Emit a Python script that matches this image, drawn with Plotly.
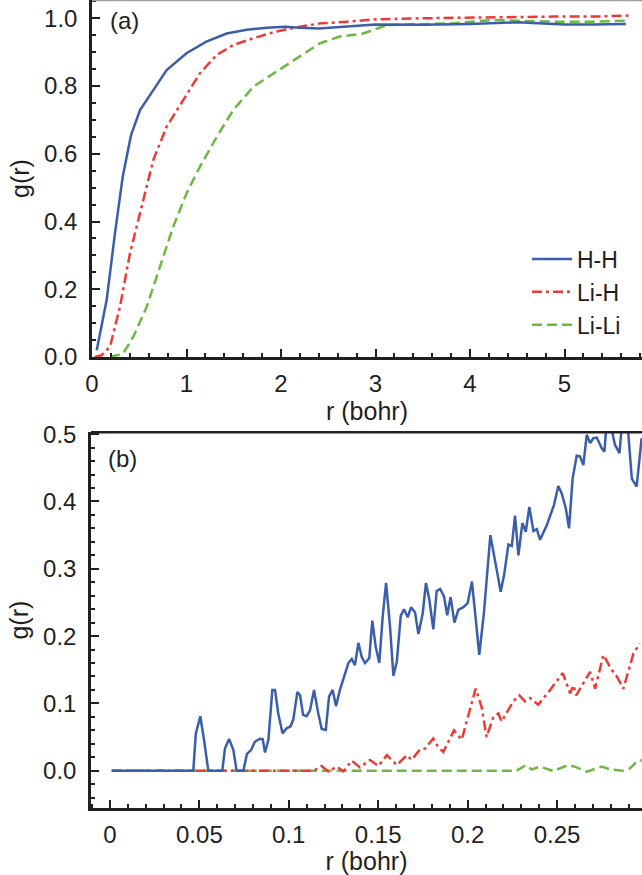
import plotly.graph_objects as go

# ---- panel (a): g(r) over the full range ----
r_hh_a = [0.05, 0.155, 0.243, 0.325, 0.413, 0.508, 0.649, 0.79, 1.0, 1.21, 1.425,
          1.637, 1.85, 2.04, 2.2, 2.4, 2.7, 3.0, 3.5, 4.0, 4.5, 4.75, 5.0, 5.3, 5.65]
g_hh_a = [0.02, 0.168, 0.365, 0.532, 0.655, 0.729, 0.788, 0.847, 0.897, 0.931, 0.955,
          0.966, 0.972, 0.975, 0.972, 0.970, 0.976, 0.982, 0.981, 0.983, 0.988, 0.984,
          0.982, 0.982, 0.983]

r_lih_a = [0.03, 0.1, 0.19, 0.296, 0.402, 0.508, 0.649, 0.79, 0.966, 1.143, 1.32,
           1.495, 1.707, 1.95, 2.2, 2.41, 2.7, 3.01, 3.47, 4.18, 4.88, 5.3, 5.69]
g_lih_a = [0.0, 0.005, 0.03, 0.148, 0.306, 0.424, 0.582, 0.68, 0.759, 0.838, 0.892,
           0.921, 0.941, 0.961, 0.975, 0.985, 0.99, 0.997, 1.0, 1.003, 1.005, 1.005, 1.008]

r_lili_a = [0.19, 0.33, 0.437, 0.579, 0.72, 0.86, 1.0, 1.143, 1.32, 1.495, 1.707,
            1.92, 2.13, 2.41, 2.62, 2.87, 3.12, 3.5, 3.82, 4.24, 4.6, 4.88, 5.3, 5.69]
g_lili_a = [0.0, 0.01, 0.06, 0.148, 0.267, 0.385, 0.483, 0.562, 0.65, 0.729, 0.798,
            0.837, 0.877, 0.926, 0.946, 0.955, 0.98, 0.983, 0.985, 0.995, 0.993, 0.99,
            0.99, 0.993]

# ---- panel (b): short-range detail ----
r_hh_b = [0.001, 0.0466, 0.048, 0.0505, 0.0526, 0.055, 0.0628, 0.0643, 0.0666, 0.069,
          0.0708, 0.0746, 0.0766, 0.079, 0.081, 0.0839, 0.0854, 0.0867, 0.0886, 0.0908,
          0.0923, 0.0941, 0.0965, 0.0988, 0.101, 0.1025, 0.1048, 0.1063, 0.108, 0.11,
          0.1119, 0.1141, 0.1165, 0.1184, 0.1207, 0.1225, 0.1245, 0.1264, 0.1286, 0.131,
          0.1333, 0.1352, 0.137, 0.1389, 0.1408, 0.1426, 0.145, 0.1467, 0.1486, 0.1506,
          0.1525, 0.1544, 0.1566, 0.1585, 0.1604, 0.1626, 0.1644, 0.1665, 0.1684, 0.1706,
          0.1725, 0.1749, 0.1767, 0.1786, 0.1808, 0.1827, 0.1846, 0.1868, 0.1886, 0.1905,
          0.1926, 0.1948, 0.1976, 0.2, 0.2024, 0.2045, 0.2065, 0.2091, 0.2127, 0.2185,
          0.2204, 0.2228, 0.2247, 0.2265, 0.2284, 0.2306, 0.2325, 0.2345, 0.2368, 0.2387,
          0.2405, 0.2443, 0.2483, 0.2507, 0.2526, 0.2549, 0.2567, 0.2587, 0.261, 0.2628,
          0.2647, 0.2666, 0.2685, 0.2703, 0.2722, 0.275, 0.2765, 0.2778, 0.2795, 0.2824,
          0.2849, 0.2868, 0.289, 0.2918, 0.2945, 0.2973]
g_hh_b = [0.0, 0.0, 0.055, 0.081, 0.046, 0.0, 0.0, 0.033, 0.047, 0.031,
          0.0, 0.0, 0.025, 0.031, 0.043, 0.0475, 0.047, 0.027, 0.046, 0.12,
          0.12, 0.085, 0.0555, 0.063, 0.066, 0.076, 0.117, 0.112, 0.083, 0.081,
          0.09, 0.12, 0.085, 0.062, 0.0605, 0.11, 0.12, 0.096, 0.12, 0.14,
          0.16, 0.166, 0.157, 0.19, 0.169, 0.16, 0.167, 0.223, 0.184, 0.16,
          0.229, 0.279, 0.214, 0.141, 0.162, 0.23, 0.24, 0.228, 0.243, 0.235,
          0.203, 0.234, 0.279, 0.254, 0.21, 0.267, 0.27, 0.259, 0.231, 0.258,
          0.22, 0.239, 0.243, 0.249, 0.281, 0.226, 0.172, 0.234, 0.35, 0.266,
          0.291, 0.336, 0.334, 0.379, 0.32, 0.368, 0.355, 0.392, 0.356, 0.359,
          0.343, 0.365, 0.395, 0.423, 0.412, 0.39, 0.36, 0.434, 0.468, 0.467,
          0.454, 0.499, 0.487, 0.494, 0.495, 0.479, 0.474, 0.52, 0.52, 0.484,
          0.472, 0.53, 0.53, 0.434, 0.422, 0.494]

r_lih_b = [0.001, 0.114, 0.1184, 0.1221, 0.1268, 0.1305, 0.1352, 0.1398, 0.1454, 0.1501,
           0.1548, 0.1604, 0.166, 0.1687, 0.1734, 0.1762, 0.1808, 0.1836, 0.1864, 0.1924,
           0.1967, 0.2013, 0.2045, 0.2078, 0.2106, 0.2144, 0.2172, 0.219, 0.2255, 0.2289,
           0.2321, 0.2349, 0.2395, 0.2461, 0.2532, 0.2573, 0.2592, 0.2607, 0.2647, 0.2685,
           0.2713, 0.2759, 0.2806, 0.2834, 0.2871, 0.2927, 0.2962]
g_lih_b = [0.0, 0.0, 0.007, -0.001, 0.006, -0.001, 0.015, 0.005, 0.016, 0.007,
           0.023, 0.0085, 0.023, 0.016, 0.032, 0.033, 0.048, 0.035, 0.028, 0.06,
           0.046, 0.09, 0.122, 0.095, 0.05, 0.08, 0.085, 0.073, 0.103, 0.112,
           0.103, 0.108, 0.098, 0.12, 0.145, 0.115, 0.127, 0.112, 0.13, 0.147,
           0.122, 0.172, 0.15, 0.14, 0.122, 0.174, 0.189]

r_lili_b = [0.001, 0.2255, 0.2274, 0.2327, 0.2358, 0.2405, 0.2479, 0.2563, 0.261, 0.2666,
            0.275, 0.2796, 0.2871, 0.2908, 0.2955, 0.2973]
g_lili_b = [0.0, 0.0, 0.0, 0.0085, 0.002, 0.006, -0.0005, 0.0085, 0.005, -0.0015,
            0.006, 0.002, 0.0, 0.0035, 0.016, 0.015]

# ---- styling ----
BLUE = "#3b5eab"
RED = "#ec3b36"
GREEN = "#6cb843"
INK = "#231f20"
FONT = "Liberation Sans, Arial, sans-serif"

series = [
    # name, colour, dash, legend rank, panel-a data, panel-b data
    ("Li-Li", GREEN, "10px,5px", 3, (r_lili_a, g_lili_a), (r_lili_b, g_lili_b)),
    ("Li-H", RED, "10px,4px,3px,4px", 2, (r_lih_a, g_lih_a), (r_lih_b, g_lih_b)),
    ("H-H", BLUE, "solid", 1, (r_hh_a, g_hh_a), (r_hh_b, g_hh_b)),
]

fig = go.Figure()
for name, col, dash, rank, (xa, ya), (xb, yb) in series:
    fig.add_trace(go.Scatter(
        x=xa, y=ya, mode="lines", name=name, legendrank=rank,
        line=dict(color=col, width=2.5, dash=dash),
        xaxis="x", yaxis="y",
    ))
    fig.add_trace(go.Scatter(
        x=xb, y=yb, mode="lines", name=name, showlegend=False,
        line=dict(color=col, width=2.5, dash=dash),
        xaxis="x2", yaxis="y2",
    ))

W, H = 642, 875


def axis_common():
    return dict(
        showgrid=False, zeroline=False, showline=True, linecolor=INK, linewidth=2.5,
        ticks="inside", ticklen=8, tickwidth=2, tickcolor=INK, automargin=False,
        tickfont=dict(size=24, color=INK, family=FONT),
        title_font=dict(size=25, color=INK, family=FONT),
    )


ax_x1 = axis_common()
ax_x1.update(domain=[92 / W, 1], anchor="y", range=[0, 5.82], dtick=1, tick0=0,
             minor=dict(ticks="inside", dtick=0.2, ticklen=4.5, tickwidth=2, tickcolor=INK),
             title=dict(text="r (bohr)", standoff=1), ticklabelstandoff=3)
ax_y1 = axis_common()
ax_y1.update(domain=[1 - 357 / H, 1], anchor="x", range=[0, 1.054], dtick=0.2, tick0=0,
             tickformat=".1f",
             minor=dict(ticks="inside", dtick=0.05, ticklen=4.5, tickwidth=2, tickcolor=INK),
             title=dict(text="g(r)", standoff=8), ticklabelstandoff=7)
ax_x2 = axis_common()
ax_x2.update(domain=[91 / W, 1], anchor="y2", range=[-0.0106, 0.2975], dtick=0.05, tick0=0,
             minor=dict(ticks="inside", dtick=0.01, ticklen=4.5, tickwidth=2, tickcolor=INK),
             title=dict(text="r (bohr)", standoff=6), ticklabelstandoff=3)
ax_y2 = axis_common()
ax_y2.update(domain=[1 - 808 / H, 1 - 432.3 / H], anchor="x2", range=[-0.0554, 0.5028],
             dtick=0.1, tick0=0, tickformat=".1f",
             minor=dict(ticks="inside", dtick=0.02, ticklen=4.5, tickwidth=2, tickcolor=INK),
             title=dict(text="g(r)", standoff=8), ticklabelstandoff=7)

fig.update_layout(
    width=W, height=H,
    margin=dict(l=0, r=0, t=0, b=0, autoexpand=False),
    paper_bgcolor="white", plot_bgcolor="white",
    font=dict(family=FONT, color=INK, size=24),
    xaxis=ax_x1, yaxis=ax_y1, xaxis2=ax_x2, yaxis2=ax_y2,
    showlegend=True,
    legend=dict(
        x=527 / W, y=1 - 237.5 / H, xanchor="left", yanchor="top",
        bgcolor="rgba(0,0,0,0)", borderwidth=0,
        font=dict(size=23, color=INK, family=FONT),
        tracegroupgap=0, itemwidth=40,
    ),
    annotations=[
        dict(text="(a)", xref="paper", yref="paper", x=108 / W, y=1 - 20 / H,
             xanchor="left", yanchor="middle", showarrow=False,
             font=dict(size=24, color=INK, family=FONT)),
        dict(text="(b)", xref="paper", yref="paper", x=106 / W, y=1 - 458 / H,
             xanchor="left", yanchor="middle", showarrow=False,
             font=dict(size=24, color=INK, family=FONT)),
    ],
    shapes=[
        # thin frame edge above panel (a)
        dict(type="line", xref="paper", yref="paper", x0=92 / W, x1=1, y0=1 - 0.6 / H,
             y1=1 - 0.6 / H, line=dict(color="#a0a0a0", width=1.5)),
        # closed top edge of panel (b)
        dict(type="line", xref="paper", yref="paper", x0=91 / W, x1=1, y0=1 - 432.3 / H,
             y1=1 - 432.3 / H, line=dict(color=INK, width=2.5)),
    ],
)

fig.write_html("out.html")
